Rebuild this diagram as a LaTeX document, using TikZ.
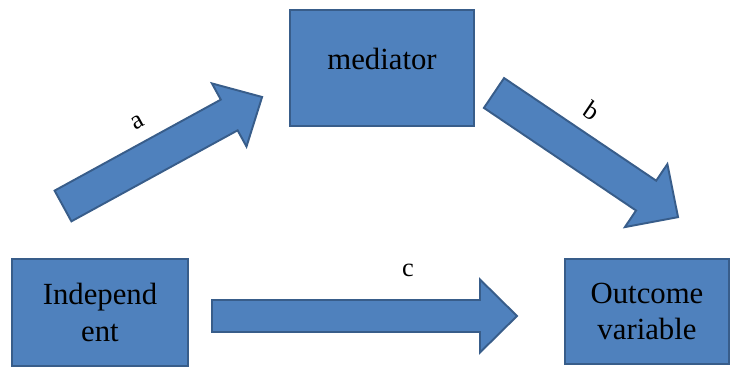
\documentclass[tikz,border=0pt]{standalone}
\usepackage{fontspec}
\setmainfont{Liberation Serif}
\usetikzlibrary{calc,positioning}
\definecolor{boxfill}{HTML}{4F81BD}
\definecolor{boxline}{HTML}{385D8A}
\tikzset{
  box/.style={draw=boxline,fill=boxfill,line width=1.2pt,align=center,
    font=\fontsize{17.5}{20.5}\selectfont},
  fat/.style={draw=boxline,fill=boxfill,line width=1.1pt},
  lab/.style={font=\fontsize{15}{17}\selectfont}
}
\begin{document}
\begin{tikzpicture}
\useasboundingbox (0,0) rectangle (14.6,7.34);
\node[box,minimum width=3.68cm,minimum height=2.32cm,text depth=0.35cm] (med) at (7.64,5.98) {mediator};
\node[box,minimum width=3.52cm,minimum height=2.14cm] (ind) at (2.0,1.09) {Independ\\ent};
\node[box,minimum width=3.28cm,minimum height=2.10cm] (out) at (12.94,1.11) {Outcome\\variable};
\begin{scope}[shift={(1.26,3.22)},rotate=28.7,transform shape]
\coordinate (a0) at (0,0);
\coordinate (a1) at (4.54,0);
\draw[fat] (a0) ++(0,-0.35) -- ++(3.79,0) -- ++(0,-0.37) -- (a1) -- ++(-0.75,0.72) -- ++(0,-0.37) -- ++(-3.79,0) -- cycle;
\node[lab] (la) at (2.12,0.75) {a};
\end{scope}
\begin{scope}[shift={(9.88,5.48)},rotate=-34,transform shape]
\coordinate (b0) at (0,0);
\coordinate (b1) at (4.44,0);
\draw[fat] (b0) ++(0,-0.36) -- ++(3.67,0) -- ++(0,-0.4) -- (b1) -- ++(-0.77,0.76) -- ++(0,-0.4) -- ++(-3.67,0) -- cycle;
\node[lab] (lb) at (1.82,0.81) {b};
\end{scope}
\begin{scope}[shift={(4.24,1.02)}]
\coordinate (c0) at (0,0);
\coordinate (c1) at (6.1,0);
\draw[fat] (c0) ++(0,-0.32) -- ++(5.36,0) -- ++(0,-0.41) -- (c1) -- ++(-0.74,0.73) -- ++(0,-0.41) -- ++(-5.36,0) -- cycle;
\node[lab] (lc) at (3.92,0.92) {c};
\end{scope}
\end{tikzpicture}
\end{document}
